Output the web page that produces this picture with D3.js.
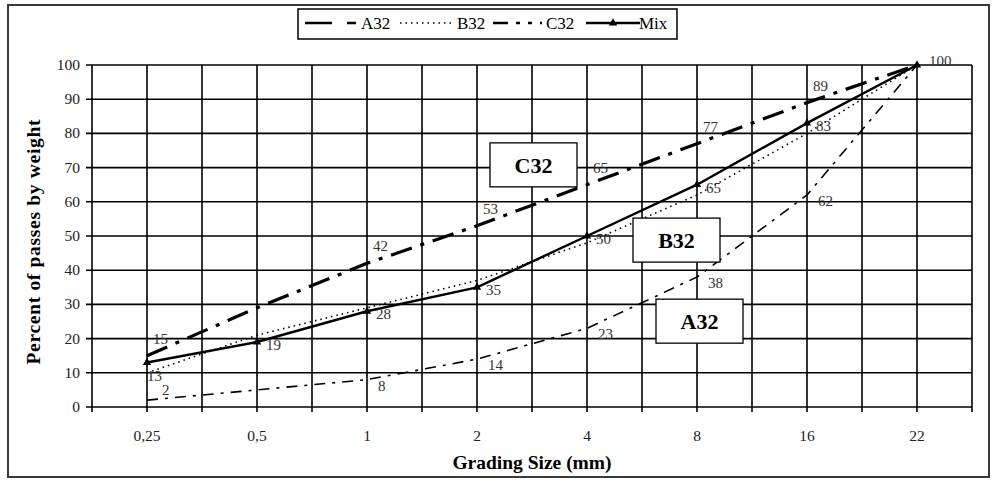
<!DOCTYPE html>
<html><head><meta charset="utf-8">
<script src="https://cdn.jsdelivr.net/npm/d3@7"></script>
<style>body{margin:0;background:#fff}svg{display:block}</style>
</head><body><svg id="c" width="995" height="481"></svg>
<script>
const categories = ["0,25","0,5","1","2","4","8","16","22"];
const a32 = [2, 5, 8, 14, 23, 38, 62, 100];
const b32 = [10, 21, 29, 37, 48, 62, 80, 100];
const c32 = [15, 29, 42, 53, 65, 77, 89, 100];
const mix = [13, 19, 28, 35, 50, 65, 83, 100];
const yTicks = [0,10,20,30,40,50,60,70,80,90,100];
const seriesNames = ["A32","B32","C32","Mix"];

const svg = d3.select("#c");
const F = "'Liberation Serif','Times New Roman',serif";
const L = 92, R = 972, T = 65, B = 407;
const x = d3.scalePoint().domain(categories).range([L, R]).padding(0.5);
const y = d3.scaleLinear().domain([0, 100]).range([B, T]);
const step = x.step();

// outer border
svg.append("rect").attr("x",8).attr("y",5).attr("width",981).attr("height",472)
  .attr("fill","#fff").attr("stroke","#3a3a3a").attr("stroke-width",2);

// grid
const g = svg.append("g");
const vx = [];
categories.forEach(c => { vx.push(x(c) - step/2); vx.push(x(c)); });
vx.push(x(categories[categories.length-1]) + step/2);
g.selectAll("line.v").data(vx).join("line")
  .attr("x1",d=>d).attr("x2",d=>d).attr("y1",T).attr("y2",B+5)
  .attr("stroke","#000").attr("stroke-width",1.6);
g.selectAll("line.h").data(yTicks).join("line")
  .attr("x1",L-6).attr("x2",R).attr("y1",d=>y(d)).attr("y2",d=>y(d))
  .attr("stroke","#000").attr("stroke-width",1.6);

// y tick labels
svg.append("g").selectAll("text").data(yTicks).join("text")
  .attr("x",L-12).attr("y",d=>y(d)+5).attr("text-anchor","end")
  .attr("font-family",F).attr("font-size",15.5).attr("fill","#222").text(d=>d);
// x tick labels
svg.append("g").selectAll("text").data(categories).join("text")
  .attr("x",d=>x(d)).attr("y",441).attr("text-anchor","middle")
  .attr("font-family",F).attr("font-size",15.5).attr("fill","#222").text(d=>d);

// axis titles
svg.append("text").attr("x",(L+R)/2).attr("y",469).attr("text-anchor","middle")
  .attr("font-family",F).attr("font-size",19.5).attr("font-weight","bold").text("Grading Size (mm)");
svg.append("text").attr("transform","translate(40,242) rotate(-90)").attr("text-anchor","middle")
  .attr("font-family",F).attr("font-size",19.5).attr("font-weight","bold")
  .attr("textLength",245).attr("lengthAdjust","spacing").text("Percent of passes by weight");

const line = d3.line().x((d,i)=>x(categories[i])).y(d=>y(d));
const styles = {
  A32: {data:a32, w:1.6, dash:"11,7,3,7"},
  B32: {data:b32, w:1.6, dash:"1.5,4"},
  C32: {data:c32, w:3.2, dash:"22,9,4,9"},
  Mix: {data:mix, w:2.4, dash:null}
};
seriesNames.forEach(n => {
  const s = styles[n];
  svg.append("path").datum(s.data).attr("d",line).attr("fill","none")
    .attr("stroke","#000").attr("stroke-width",s.w)
    .attr("stroke-dasharray",s.dash);
});
// mix markers
svg.append("g").selectAll("path").data(mix).join("path")
  .attr("transform",(d,i)=>`translate(${x(categories[i])},${y(d)})`)
  .attr("d",d3.symbol(d3.symbolTriangle,30)).attr("fill","#000");

// data labels
function labels(data, dx, dy, skip) {
  svg.append("g").selectAll("text").data(data.map((v,i)=>({v,i})).filter(d=>!skip.includes(d.i))).join("text")
    .attr("x",d=>x(categories[d.i])+dx).attr("y",d=>y(d.v)+dy)
    .attr("font-family",F).attr("font-size",15).attr("fill","#333").text(d=>d.v);
}
labels(c32, 6, -12, [1,7]);
labels(a32, 11, 11, [0,1,7]);
labels(mix, 9, 8, [0,7]);
// specific labels
function label1(v, i, dx, dy) {
  svg.append("text").attr("x",x(categories[i])+dx).attr("y",y(v)+dy)
    .attr("font-family",F).attr("font-size",15).attr("fill","#333").text(v);
}
label1(a32[0], 0, 15, -5);
label1(mix[0], 0, 0, 18);
label1(mix[7], 7, 12, 1);

// annotation boxes
const boxes = [
  {name:"C32", x0:"2", xo:13, v:70.8},
  {name:"B32", x0:"4", xo:46, v:48.8},
  {name:"A32", x0:"4", xo:69, v:25.1}
];
boxes.forEach(b => {
  const bx = x(b.x0) + b.xo, by = y(b.v) - 22;
  svg.append("rect").attr("x",bx).attr("y",by).attr("width",87).attr("height",44)
    .attr("fill","#fff").attr("stroke","#000").attr("stroke-width",1.3);
  svg.append("text").attr("x",bx+43.5).attr("y",by+30).attr("text-anchor","middle")
    .attr("font-family",F).attr("font-size",22).attr("font-weight","bold").text(b.name);
});

// legend
const lg = svg.append("g");
lg.append("rect").attr("x",298).attr("y",9).attr("width",379).attr("height",30)
  .attr("fill","#fff").attr("stroke","#000").attr("stroke-width",1.5);
const leg = [
  {n:"A32", x0:305, x1:356, tx:361},
  {n:"B32", x0:400, x1:453, tx:457},
  {n:"C32", x0:493, x1:542, tx:546},
  {n:"Mix", x0:586, x1:640, tx:639}
];
const legDash = {A32:"27,15,9,100", B32:"1.5,4", C32:"15,8,4,8,4,8,20", Mix:null};
leg.forEach(d => {
  lg.append("line").attr("x1",d.x0).attr("x2",d.x1).attr("y1",23).attr("y2",23)
    .attr("stroke","#000").attr("stroke-width",d.n==="B32"?1.5:2.5)
    .attr("stroke-dasharray",legDash[d.n]);
  lg.append("text").attr("x",d.tx).attr("y",29).attr("font-family",F).attr("font-size",17).text(d.n);
});
lg.append("path").attr("transform","translate(613,23)").attr("d",d3.symbol(d3.symbolTriangle,30)).attr("fill","#000");
</script></body></html>
